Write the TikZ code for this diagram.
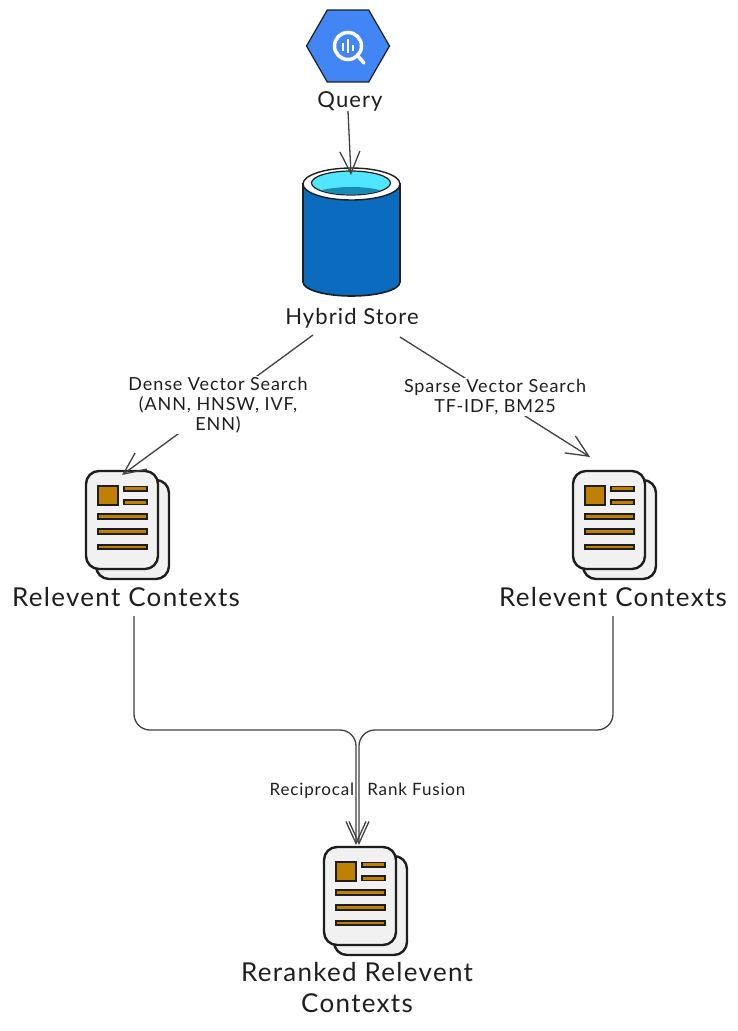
\documentclass[tikz,border=0pt]{standalone}
\usepackage{fontspec}
\setmainfont[LetterSpace=5]{Lato}
\usetikzlibrary{arrows.meta,shapes.geometric}
\definecolor{ink}{HTML}{1E1E1E}
\definecolor{gblue}{HTML}{4285F4}
\definecolor{storeblue}{HTML}{0B6BBF}
\definecolor{storecyan}{HTML}{50E6FF}
\definecolor{storeteal}{HTML}{198AB3}
\definecolor{pagegray}{HTML}{F1F1F1}
\definecolor{docorange}{HTML}{C08000}
\tikzset{
	link/.style={line width=1.3pt, draw=ink!85, -{Straight Barb[length=22pt,width=20pt,line width=1.3pt]}},
	biglabel/.style={text=ink, font=\fontsize{26}{31}\selectfont},
	midlabel/.style={text=ink, font=\fontsize{22}{25}\selectfont},
	smalllabel/.style={text=ink, font=\fontsize{18}{20}\selectfont, align=center, fill=white, inner sep=1pt},
	page/.style={draw=ink, line width=2.4pt, fill=pagegray, rounded corners=13pt},
	bar/.style={draw=ink, line width=1.4pt, fill=docorange},
	pics/docicon/.style={code={
		\draw[page] (10,9) rectangle (83,108);
		\draw[page] (0,0) rectangle (72,98);
		\draw[bar] (12,15) rectangle (32,34);
		\draw[bar] (38,15.5) rectangle (61,20);
		\draw[bar] (38,29) rectangle (61,33.5);
		\draw[bar] (12,43) rectangle (61,48);
		\draw[bar] (12,58) rectangle (61,63);
		\draw[bar] (12,74) rectangle (61,78);
	}}
}
\begin{document}
\begin{tikzpicture}[x=1pt,y=-1pt]
	\useasboundingbox (0,0) rectangle (738,1031);
	% query icon
	\node[regular polygon, regular polygon sides=6, minimum size=83pt, inner sep=0pt, draw=ink, line width=1.2pt, fill=gblue] (queryicon) at (348,46) {};
	\draw[white, line width=3.5pt] (queryicon.center) circle (13.5);
	\draw[white, line width=3.5pt, line cap=round] (357,55) -- (364,63);
	\draw[white, line width=2pt] (343,43) -- (343,51);
	\draw[white, line width=2pt] (348,39) -- (348,53);
	\draw[white, line width=2pt] (353,45) -- (353,51);
	\node[midlabel] (querylabel) at (350,101) {Query};
	% hybrid store
	\draw[draw=ink, line width=1.6pt, fill=storeblue] (303,184) -- (303,282) arc[start angle=180, end angle=0, x radius=48.5, y radius=14] -- (400,184) -- cycle;
	\draw[draw=ink, line width=1.4pt, fill=white] (351.5,184) ellipse (48.5 and 16);
	\draw[draw=ink, line width=1.2pt, fill=storecyan] (351,183) ellipse (39.5 and 12);
	\begin{scope}
		\clip (351,183) ellipse (39 and 11.5);
		\fill[storeteal] (351,200) ellipse (45 and 13);
	\end{scope}
	\coordinate (querystart) at (348,111);
	\coordinate (storetop) at (351,175);
	\node[midlabel] (storelabel) at (352,318) {Hybrid Store};
	% documents
	\pic at (86,471) {docicon};
	\pic at (573,471) {docicon};
	\pic at (324,847) {docicon};
	\coordinate (denseout) at (313,335);
	\coordinate (densein) at (122,475);
	\coordinate (sparseout) at (400,337);
	\coordinate (sparsein) at (590,457);
	\node[biglabel] (leftctx) at (126,597) {Relevent Contexts};
	\node[biglabel] (rightctx) at (613,597) {Relevent Contexts};
	\node[biglabel, align=center] (finalctx) at (357,988) {Reranked Relevent\\Contexts};
	% connectors
	\draw[link] (querystart) -- (storetop);
	\draw[link] (denseout) -- (densein);
	\draw[link] (sparseout) -- (sparsein);
	\node[smalllabel] (denselabel) at (218,405) {Dense Vector Search\\(ANN, HNSW, IVF,\\ENN)};
	\node[smalllabel] (sparselabel) at (495,397) {Sparse Vector Search\\TF-IDF, BM25};
	\coordinate (leftout) at (134,616);
	\coordinate (rightout) at (613,616);
	\coordinate (leftmerge) at (356,730);
	\coordinate (rightmerge) at (359,730);
	\coordinate (lefttip) at (356,845);
	\coordinate (righttip) at (359,845);
	\draw[link, rounded corners=16pt] (leftout) |- (leftmerge) -- (lefttip);
	\draw[link, rounded corners=16pt] (rightout) |- (rightmerge) -- (righttip);
	\node[smalllabel, fill=none, font=\fontsize{17}{20}\selectfont] (fusionlabel) at (367.5,791) {Reciprocal\hspace{8pt} Rank Fusion};
\end{tikzpicture}
\end{document}
